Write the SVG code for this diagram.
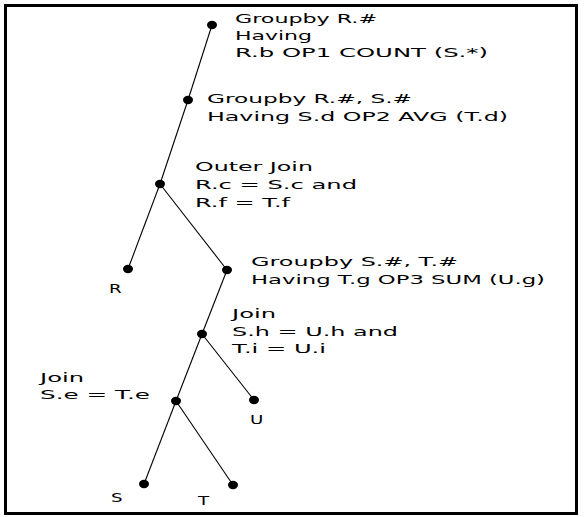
<svg xmlns="http://www.w3.org/2000/svg" width="584" height="517" viewBox="0 0 584 517">
<style>
.t{font-family:"DejaVu Sans","Liberation Sans",sans-serif;font-size:13px;fill:#000}
.e{stroke:#000;stroke-width:1.1;fill:none}
.n{fill:#000}
</style>
<rect x="0" y="0" width="584" height="517" fill="#fff"/>
<rect x="5.5" y="5.5" width="571" height="508" fill="none" stroke="#000" stroke-width="3"/>
<g id="connectors">
<line class="e" x1="212" y1="25" x2="188" y2="100"/>
<line class="e" x1="188" y1="100" x2="160" y2="184"/>
<line class="e" x1="160" y1="184" x2="128" y2="269"/>
<line class="e" x1="160" y1="184" x2="227" y2="270"/>
<line class="e" x1="227" y1="270" x2="202" y2="334"/>
<line class="e" x1="202" y1="334" x2="176" y2="401"/>
<line class="e" x1="202" y1="334" x2="254" y2="400"/>
<line class="e" x1="176" y1="401" x2="144" y2="484"/>
<line class="e" x1="176" y1="401" x2="233" y2="485"/>
</g>
<g id="n1"><ellipse class="n" cx="212" cy="25" rx="5" ry="4.2"/>
<text class="t" x="235" y="23" textLength="142" lengthAdjust="spacingAndGlyphs">Groupby R.#</text>
<text class="t" x="235" y="40" textLength="77" lengthAdjust="spacingAndGlyphs">Having</text>
<text class="t" x="235" y="57" textLength="253" lengthAdjust="spacingAndGlyphs">R.b OP1 COUNT (S.*)</text></g>
<g id="n2"><ellipse class="n" cx="188" cy="100" rx="5" ry="4.2"/>
<text class="t" x="207" y="103" textLength="205" lengthAdjust="spacingAndGlyphs">Groupby R.#, S.#</text>
<text class="t" x="207" y="121" textLength="301" lengthAdjust="spacingAndGlyphs">Having S.d OP2 AVG (T.d)</text></g>
<g id="n3"><ellipse class="n" cx="160" cy="184" rx="5" ry="4.2"/>
<text class="t" x="195" y="171" textLength="118" lengthAdjust="spacingAndGlyphs">Outer Join</text>
<text class="t" x="195" y="189" textLength="162" lengthAdjust="spacingAndGlyphs">R.c = S.c and</text>
<text class="t" x="195" y="207" textLength="95" lengthAdjust="spacingAndGlyphs">R.f = T.f</text></g>
<g id="nR"><ellipse class="n" cx="128" cy="269" rx="5" ry="4.2"/>
<text class="t" transform="translate(109,293) scale(1.4,1)">R</text></g>
<g id="n4"><ellipse class="n" cx="227" cy="270" rx="5" ry="4.2"/>
<text class="t" x="251" y="266" textLength="207" lengthAdjust="spacingAndGlyphs">Groupby S.#, T.#</text>
<text class="t" x="251" y="284" textLength="294" lengthAdjust="spacingAndGlyphs">Having T.g OP3 SUM (U.g)</text></g>
<g id="n5"><ellipse class="n" cx="202" cy="334" rx="5" ry="4.2"/>
<text class="t" x="232" y="318" textLength="44" lengthAdjust="spacingAndGlyphs">Join</text>
<text class="t" x="232" y="336" textLength="166" lengthAdjust="spacingAndGlyphs">S.h = U.h and</text>
<text class="t" x="232" y="353" textLength="94" lengthAdjust="spacingAndGlyphs">T.i = U.i</text></g>
<g id="nU"><ellipse class="n" cx="254" cy="400" rx="5" ry="4.2"/>
<text class="t" transform="translate(250,424) scale(1.4,1)">U</text></g>
<g id="n6"><ellipse class="n" cx="176" cy="401" rx="5" ry="4.2"/>
<text class="t" x="40" y="382" textLength="44" lengthAdjust="spacingAndGlyphs">Join</text>
<text class="t" x="40" y="399" textLength="110" lengthAdjust="spacingAndGlyphs">S.e = T.e</text></g>
<g id="nS"><ellipse class="n" cx="144" cy="484" rx="5" ry="4.2"/>
<text class="t" transform="translate(111,502) scale(1.4,1)">S</text></g>
<g id="nT"><ellipse class="n" cx="233" cy="485" rx="5" ry="4.2"/>
<text class="t" transform="translate(198,505) scale(1.4,1)">T</text></g>
</svg>
